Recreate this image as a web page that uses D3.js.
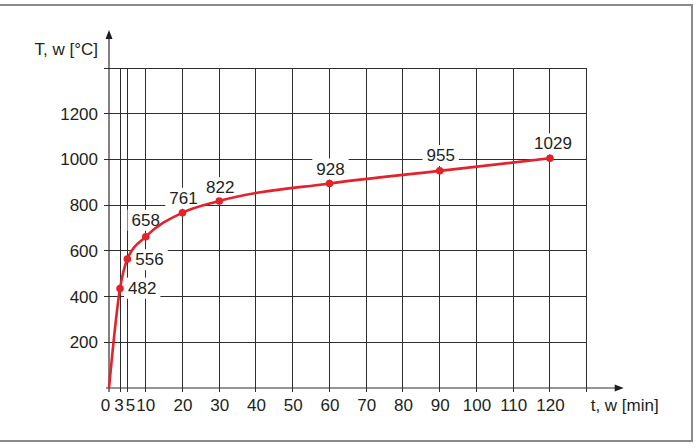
<!DOCTYPE html>
<html>
<head>
<meta charset="utf-8">
<script src="https://cdn.jsdelivr.net/npm/d3@7"></script>
<style>
  html, body { margin: 0; padding: 0; background: #fff; }
  #fireCurveChart text { font-family: "Liberation Sans", Arial, sans-serif; fill: #231f20; }
</style>
</head>
<body>
<div id="fireCurveChart"></div>
<script>
// Fire curve data
const timeMinutes = [0, 3, 5, 10, 20, 30, 60, 90, 120];
const plottedTemps = [0, 435, 564, 662, 767, 818, 895, 950, 1005];
const pointLabels = ['', '482', '556', '658', '761', '822', '928', '955', '1029'];

const xTickValues = [0, 3, 5, 10, 20, 30, 40, 50, 60, 70, 80, 90, 100, 110, 120];
const xGridValues = [3, 5, 10, 20, 30, 40, 50, 60, 70, 80, 90, 100, 110, 120, 130];
const yTickValues = [200, 400, 600, 800, 1000, 1200];
const yGridValues = [200, 400, 600, 800, 1000, 1200, 1400];

const xAxisTitle = 't, w [min]';
const yAxisTitle = 'T, w [°C]';

class FireCurveChart {
  constructor () {
    this.chartContainer = d3.select('#fireCurveChart');
    this.chart = null;
    this.chartWidth = 700;
    this.chartHeight = 448;
    this.plotLeft = 109;
    this.plotRight = 586.7;
    this.plotTop = 68;
    this.plotBottom = 388;
    this.gridColor = '#2e2e2e';
    this.curveColor = '#e52229';
    this.fontSize = 17;
    // where each value label sits relative to its point: [anchor, dx, dy]
    this.labelPlacement = [
      null,
      ['start', 8, -1],
      ['start', 8, 0],
      ['middle', 0, -17],
      ['middle', 1, -15],
      ['middle', 1, -14],
      ['middle', 1, -15],
      ['middle', 1, -16],
      ['middle', 3, -15]
    ];
    this.xScale = null;
    this.yScale = null;
  }

  render () {
    this.createSvg();
    this.initScales();
    this.drawFrame();
    this.drawGrid();
    this.drawAxes();
    this.drawCurve();
    this.drawLabels();
  }

  createSvg () {
    this.chart = this.chartContainer
      .append('svg')
      .attr('width', this.chartWidth)
      .attr('height', this.chartHeight);
  }

  initScales () {
    this.xScale = d3.scaleLinear().domain([0, 130]).range([this.plotLeft, this.plotRight]);
    this.yScale = d3.scaleLinear().domain([0, 1400]).range([this.plotBottom, this.plotTop]);
  }

  drawFrame () {
    let frame = this.chart.append('g').attr('class', 'c-frame')
      .attr('stroke', '#8a8a8a')
      .attr('stroke-width', 2)
      .attr('fill', 'none');

    frame.append('path').attr('d', 'M0,5 H692 V441 H0');
  }

  drawGrid () {
    let grid = this.chart.append('g').attr('class', 'c-grid')
      .attr('stroke', this.gridColor)
      .attr('stroke-width', 1)
      .attr('shape-rendering', 'crispEdges');

    grid.selectAll('line.v')
      .data(xGridValues)
      .enter()
      .append('line')
      .attr('class', 'v')
      .attr('x1', (d) => this.xScale(d))
      .attr('x2', (d) => this.xScale(d))
      .attr('y1', this.yScale(1400))
      .attr('y2', this.yScale(0) + 4);

    grid.selectAll('line.h')
      .data(yGridValues)
      .enter()
      .append('line')
      .attr('class', 'h')
      .attr('x1', this.xScale(0) - 5)
      .attr('x2', this.xScale(130))
      .attr('y1', (d) => this.yScale(d))
      .attr('y2', (d) => this.yScale(d));
  }

  drawAxes () {
    let xAxis = d3.axisBottom(this.xScale)
      .tickValues(xTickValues)
      .tickFormat(d3.format('d'))
      .tickSize(0)
      .tickPadding(11);

    let yAxis = d3.axisLeft(this.yScale)
      .tickValues(yTickValues)
      .tickFormat(d3.format('d'))
      .tickSize(0)
      .tickPadding(11);

    let xg = this.chart.append('g')
      .attr('class', 'c-axis')
      .attr('transform', 'translate(0, ' + this.yScale(0) + ')')
      .call(xAxis);

    let yg = this.chart.append('g')
      .attr('class', 'c-axis')
      .attr('transform', 'translate(' + this.xScale(0) + ', 0)')
      .call(yAxis);

    [xg, yg].forEach((g) => {
      g.select('.domain').remove();
      g.attr('font-size', null).attr('font-family', null);
      g.selectAll('text')
        .style('font-size', this.fontSize + 'px')
        .attr('fill', '#231f20');
    });

    // crowded labels near the origin are nudged apart a little
    const nudge = {0: -4, 3: -1.5, 5: 2.5, 10: -0.5};
    xg.selectAll('.tick text').attr('dx', (d) => nudge[d] || 0);

    let x0 = this.xScale(0);
    let y0 = this.yScale(0);
    let yTip = this.yScale(1400) - 38;
    let xTip = this.xScale(130) + 37;

    let axes = this.chart.append('g').attr('class', 'c-axis-lines');
    axes.append('line')
      .attr('x1', x0).attr('x2', x0)
      .attr('y1', y0 + 4).attr('y2', yTip + 6)
      .attr('stroke', this.gridColor).attr('stroke-width', 1.2);
    axes.append('line')
      .attr('x1', x0 - 3).attr('x2', xTip - 7)
      .attr('y1', y0).attr('y2', y0)
      .attr('stroke', this.gridColor).attr('stroke-width', 1.2);

    axes.append('path')
      .attr('d', 'M' + x0 + ',' + yTip + ' l-3.5,9 h7 z')
      .attr('fill', '#1e1e1e');
    axes.append('path')
      .attr('d', 'M' + xTip + ',' + y0 + ' l-9,-3.5 v7 z')
      .attr('fill', '#1e1e1e');

    this.chart.append('text')
      .attr('x', x0 - 11)
      .attr('y', yTip + 25)
      .attr('text-anchor', 'end')
      .style('font-size', this.fontSize + 'px')
      .text(yAxisTitle);

    this.chart.append('text')
      .attr('x', this.xScale(130) + 4)
      .attr('y', y0 + 23)
      .attr('text-anchor', 'start')
      .style('font-size', this.fontSize + 'px')
      .text(xAxisTitle);
  }

  drawCurve () {
    let points = timeMinutes.map((t, i) => ({t: t, temp: plottedTemps[i], label: pointLabels[i], idx: i}));
    this.points = points;

    let line = d3.line()
      .x((d) => this.xScale(d.t))
      .y((d) => this.yScale(d.temp))
      .curve(d3.curveMonotoneX);

    this.chart.append('path')
      .datum(points)
      .attr('d', line)
      .attr('fill', 'none')
      .attr('stroke', this.curveColor)
      .attr('stroke-width', 2.6)
      .attr('stroke-linejoin', 'round');

    this.chart.append('g')
      .attr('class', 'c-points')
      .selectAll('circle')
      .data(points.filter((d) => d.t > 0))
      .enter()
      .append('circle')
      .attr('cx', (d) => this.xScale(d.t))
      .attr('cy', (d) => this.yScale(d.temp))
      .attr('r', 3.8)
      .attr('fill', this.curveColor);
  }

  drawLabels () {
    let labelGroup = this.chart.append('g').attr('class', 'c-labels');

    this.points.filter((d) => d.label !== '').forEach((d) => {
      let place = this.labelPlacement[d.idx];
      let g = labelGroup.append('g');
      let bg = g.append('rect').attr('fill', '#fff');
      let txt = g.append('text')
        .attr('x', this.xScale(d.t) + place[1])
        .attr('y', this.yScale(d.temp) + place[2])
        .attr('dy', '0.36em')
        .attr('text-anchor', place[0])
        .style('font-size', this.fontSize + 'px')
        .text(d.label);

      let box = txt.node().getBBox();
      bg.attr('x', box.x - 4)
        .attr('y', box.y - 1)
        .attr('width', box.width + 8)
        .attr('height', box.height + 2);
    });

    // labels must not cover the dots
    labelGroup.lower();
    this.chart.select('.c-grid').lower();
    this.chart.select('.c-frame').lower();
  }
}

new FireCurveChart().render();
</script>
</body>
</html>
